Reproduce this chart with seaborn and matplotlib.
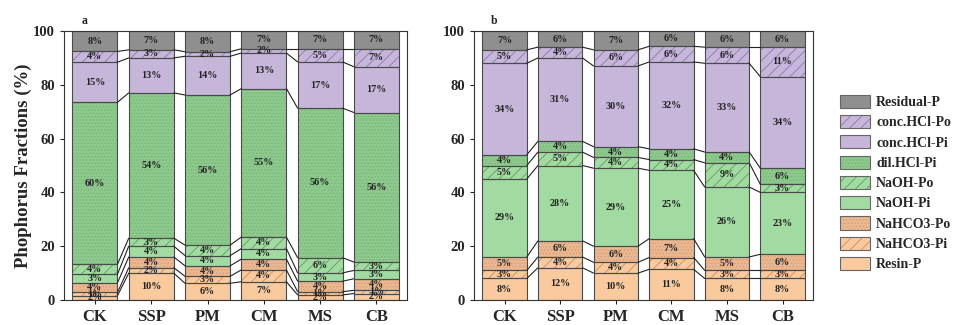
import numpy as np
import pandas as pd
import matplotlib
matplotlib.use("Agg")
import matplotlib.pyplot as plt
from matplotlib.patches import Patch
import seaborn as sns

sns.set_theme(style="ticks")
plt.rcParams.update({
    "font.family": ["Liberation Serif", "DejaVu Serif"],
    "font.weight": "bold",
    "hatch.linewidth": 0.6,
    "axes.linewidth": 0.8,
})

# ─── data (bottom → top of each stack, % of total P) ─────────────────────────
samples = ["CK", "SSP", "PM", "CM", "MS", "CB"]
fractions = ["Resin-P", "NaHCO3-Pi", "NaHCO3-Po", "NaOH-Pi", "NaOH-Po",
             "dil.HCl-Pi", "conc.HCl-Pi", "conc.HCl-Po", "Residual-P"]

# panel a
a_resin   = [1.6, 10, 6.2, 6.8, 1.9, 2.4]
a_nahco3i = [1.2, 2, 2.6, 4.4, 1.2, 1.2]
a_nahco3o = [3.6, 4, 3.9, 4.0, 3.9, 4.3]
a_naohi   = [3.2, 4, 3.8, 3.9, 3.1, 3.1]
a_naoho   = [3.7, 3, 3.9, 4.3, 5.6, 3.1]
a_dilhcl  = [60.2, 54, 55.8, 55.2, 55.6, 55.6]
a_chcli   = [14.9, 13, 14.4, 13.2, 17.2, 17.0]
a_chclo   = [4.0, 3, 1.7, 1.6, 4.9, 6.7]
a_resid   = [7.6, 7, 7.7, 6.6, 6.6, 6.6]

# panel b
b_resin   = [8, 12, 10, 11.4, 8, 8]
b_nahco3i = [3, 4, 4, 4.4, 3, 3]
b_nahco3o = [5, 6, 6, 7.0, 5, 6]
b_naohi   = [29, 28, 29, 25.4, 26, 23]
b_naoho   = [5, 5, 4, 4.0, 9, 3]
b_dilhcl  = [4, 4, 4, 4.0, 4, 6]
b_chcli   = [34, 31, 30, 32.3, 33, 34]
b_chclo   = [5, 4, 6, 5.8, 6, 11]
b_resid   = [7, 6, 7, 5.7, 6, 6]

# ─── styles per fraction: fill, hatch, hatch colour ─────────────────────────
styles = {
    "Resin-P":     ("#F9CA9E", None,    "#F9CA9E"),
    "NaHCO3-Pi":   ("#F9CA9E", "///",   "#C98C5E"),
    "NaHCO3-Po":   ("#EAB791", ".....", "#D6A27C"),
    "NaOH-Pi":     ("#A2DBA2", None,    "#A2DBA2"),
    "NaOH-Po":     ("#A2DBA2", "///",   "#5E9E5E"),
    "dil.HCl-Pi":  ("#8DC88D", ".....", "#7AB57A"),
    "conc.HCl-Pi": ("#C6B6DA", None,    "#C6B6DA"),
    "conc.HCl-Po": ("#C6B6DA", "///",   "#8D78AE"),
    "Residual-P":  ("#8F8F8F", None,    "#8F8F8F"),
}
EDGE = "#4A4A4A"
WIDTH = 0.8


def make_frame(cols):
    rows = []
    for frac, vals in zip(fractions, cols):
        for s, v in zip(samples, vals):
            rows.append({"sample": s, "fraction": frac, "value": v})
    df = pd.DataFrame(rows)
    df["fraction"] = pd.Categorical(df["fraction"], fractions, ordered=True)
    df = df.sort_values(["sample", "fraction"])
    df["cum"] = df.groupby("sample")["value"].cumsum()
    df["bottom"] = df["cum"] - df["value"]
    return df


def draw_panel(ax, df, tag):
    x = np.arange(len(samples))
    # stacked look: draw cumulative bars from the top layer down
    for frac in fractions[::-1]:
        sub = df[df["fraction"] == frac]
        fc, hatch, hc = styles[frac]
        sns.barplot(data=sub, x="sample", y="cum", order=samples, ax=ax,
                    color=fc, saturation=1, width=WIDTH, errorbar=None,
                    hatch=hatch, edgecolor=hc, linewidth=0)
    # outlines, labels and connecting lines
    for frac in fractions:
        sub = df[df["fraction"] == frac].set_index("sample").loc[samples]
        ax.bar(x, sub["value"], bottom=sub["bottom"], width=WIDTH,
               fill=False, edgecolor=EDGE, linewidth=0.8)
        for xi, (v, b) in enumerate(zip(sub["value"], sub["bottom"])):
            ax.text(xi, b + v / 2, f"{v:.0f}%", ha="center", va="center",
                    fontsize=7.3, fontweight="bold", color="#222222")
        if frac != fractions[-1]:
            cum = sub["cum"].values
            for i in range(len(samples) - 1):
                ax.plot([i + WIDTH / 2, i + 1 - WIDTH / 2], [cum[i], cum[i + 1]],
                        color="#222222", lw=0.8)
    ax.set_xlim(-0.55, len(samples) - 0.45)
    ax.set_ylim(0, 100)
    ax.set_yticks(range(0, 101, 20))
    ax.set_xlabel("")
    ax.set_ylabel("")
    ax.tick_params(axis="x", labelsize=12, length=3, width=0.8)
    ax.tick_params(axis="y", labelsize=10.5, length=3, width=0.8)
    for lab in ax.get_xticklabels() + ax.get_yticklabels():
        lab.set_fontweight("bold")
    for sp in ax.spines.values():
        sp.set_visible(True)
        sp.set_color("#333333")
    ax.text(0.05, 1.015, tag, transform=ax.transAxes, fontsize=8.5,
            fontweight="bold", va="bottom")


df_a = make_frame([a_resin, a_nahco3i, a_nahco3o, a_naohi, a_naoho,
                   a_dilhcl, a_chcli, a_chclo, a_resid])
df_b = make_frame([b_resin, b_nahco3i, b_nahco3o, b_naohi, b_naoho,
                   b_dilhcl, b_chcli, b_chclo, b_resid])

fig = plt.figure(figsize=(9.58, 3.25), dpi=100)
ax_a = fig.add_axes([0.0668, 0.0769, 0.3585, 0.8277])
ax_b = fig.add_axes([0.4948, 0.0769, 0.3540, 0.8277])
draw_panel(ax_a, df_a, "a")
draw_panel(ax_b, df_b, "b")
ax_a.set_ylabel("Phophorus Fractions (%)", fontsize=13.5, fontweight="bold",
                labelpad=1)

handles = []
for frac in fractions[::-1]:
    fc, hatch, hc = styles[frac]
    handles.append((Patch(facecolor=fc, hatch=hatch, edgecolor=hc, linewidth=0),
                    Patch(fill=False, edgecolor="#666666", linewidth=0.8)))
fig.legend(handles, fractions[::-1], loc="center left",
           bbox_to_anchor=(0.871, 0.437), frameon=False,
           prop={"size": 10, "weight": "bold"},
           handlelength=2.15, handleheight=1.08, labelspacing=0.43,
           handletextpad=0.45, borderaxespad=0)

fig.savefig("out.png", dpi=100)
